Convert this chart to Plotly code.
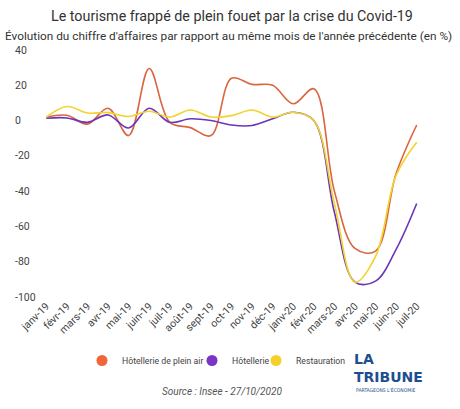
import plotly.graph_objects as go

months = ["janv-19", "févr-19", "mars-19", "avr-19", "mai-19", "juin-19", "juil-19",
          "août-19", "sept-19", "oct-19", "nov-19", "déc-19", "janv-20", "févr-20",
          "mars-20", "avr-20", "mai-20", "juin-20", "juil-20"]

plein_air = [2, 3, -2, 7, -8.5, 29.5, -1, -4, -8.5, 24, 20.5, 20, 9.5, 18,
             -40, -72.5, -74, -30, -2.5]
hotellerie = [1.3, 1.5, -1, 3.2, -4.2, 7, -1, 1, 0, -2.5, -2.8, 1, 4.7, 0,
              -52, -91.6, -91, -73, -47]
restauration = [2, 8, 4.3, 4.5, 2.3, 5.3, 2, 6, 2, 2.8, 6, 2, 4.7, 0,
                -47, -91.6, -77, -31, -12.3]

y_ticks = [40, 20, 0, -20, -40, -60, -80, -100]

series = [
    ("Hôtellerie de plein air", plein_air, "#d9663f", "#f0653a", "legend", 82),
    ("Hôtellerie", hotellerie, "#6a35b8", "#7a35c8", "legend2", 192),
    ("Restauration", restauration, "#f2d32e", "#f7cf2a", "legend3", 256),
]

FONT = "Roboto, 'Open Sans', sans-serif"
LOGO_FONT = "'DejaVu Sans', sans-serif"
BLUE = "#1d4f8f"

W, H = 460, 409
L, R, T, B = 36, 33, 50, 112


def px(pix):
    return (pix - L) / (W - L - R)


def py(pix):
    return 1 - (pix - T) / (H - T - B)


fig = go.Figure()
for name, vals, lc, mc, lg, lx in series:
    fig.add_trace(go.Scatter(
        x=months, y=vals, mode="lines", name=name, legendgroup=name,
        showlegend=False,
        line=dict(color=lc, width=1.6, shape="spline", smoothing=1.0),
        hoverinfo="skip",
    ))
for name, vals, lc, mc, lg, lx in series:
    fig.add_trace(go.Scatter(
        x=[None], y=[None], mode="markers", name=name, legendgroup=name,
        legend=lg, marker=dict(color=mc, size=11),
    ))

annotations = []
for t in y_ticks:
    annotations.append(dict(
        x=px(13), xref="paper", y=t, yref="y", text=str(t), showarrow=False,
        xanchor="left", yanchor="middle",
        font=dict(family=FONT, size=10.5, color="#444"),
    ))

annotations += [
    dict(x=0.5, xref="paper", y=py(16), yref="paper", xanchor="center", yanchor="middle",
         text="Le tourisme frappé de plein fouet par la crise du Covid-19", showarrow=False,
         font=dict(family=FONT, size=14.3, color="#333")),
    dict(x=px(228), xref="paper", y=py(36), yref="paper", xanchor="center", yanchor="middle",
         text="Évolution du chiffre d'affaires par rapport au même mois de l'année précédente (en %)",
         showarrow=False, font=dict(family=FONT, size=11.8, color="#333")),
    dict(x=px(222), xref="paper", y=py(391), yref="paper", xanchor="center", yanchor="middle",
         text="<i>Source : Insee - 27/10/2020</i>", showarrow=False,
         font=dict(family=FONT, size=10, color="#555")),
    dict(x=px(353), xref="paper", y=py(359), yref="paper", xanchor="left", yanchor="middle",
         text="<b>LA</b>", showarrow=False, borderpad=0,
         font=dict(family=LOGO_FONT, size=14, color=BLUE)),
    dict(x=px(353), xref="paper", y=py(377), yref="paper", xanchor="left", yanchor="middle",
         text="<b>TRIBUNE</b>", showarrow=False, borderpad=0,
         font=dict(family=LOGO_FONT, size=14, color=BLUE)),
    dict(x=px(355), xref="paper", y=py(390), yref="paper", xanchor="left", yanchor="middle",
         text="PARTAGEONS L'ÉCONOMIE", showarrow=False, borderpad=0,
         font=dict(family="'DejaVu Sans Condensed', sans-serif", size=5, color=BLUE)),
]

legend_style = dict(orientation="h", xanchor="left", y=py(360.5), yanchor="middle",
                    font=dict(family=FONT, size=8.7, color="#444"),
                    bgcolor="rgba(0,0,0,0)", itemwidth=30)

fig.update_layout(
    width=W, height=H,
    margin=dict(l=L, r=R, t=T, b=B),
    paper_bgcolor="white", plot_bgcolor="white",
    showlegend=True,
    legend=dict(x=px(series[0][5]), **legend_style),
    legend2=dict(x=px(series[1][5]), **legend_style),
    legend3=dict(x=px(series[2][5]), **legend_style),
    xaxis=dict(type="category", range=[-0.5, 18.5], showgrid=False, zeroline=False,
               showline=False, ticks="", tickangle=-45,
               tickfont=dict(family=FONT, size=10.5, color="#444")),
    yaxis=dict(range=[-100, 40], showgrid=False, zeroline=False, showline=False,
               showticklabels=False, ticks=""),
    annotations=annotations,
)

fig.write_html("out.html")
